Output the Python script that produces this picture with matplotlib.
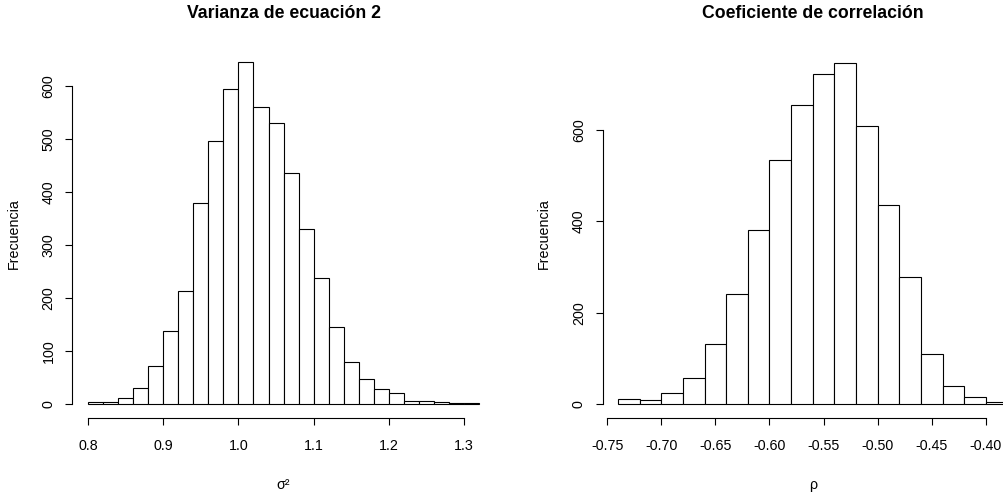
import numpy as np
import matplotlib
matplotlib.use("Agg")
import matplotlib.pyplot as plt

plt.rcParams['font.family'] = ['Liberation Sans', 'DejaVu Sans']

# Posterior draws summarised as histogram counts (bin width 0.02)
var_breaks_start = 0.80
var_bin_width = 0.02
var_counts = [3, 3, 11, 30, 71, 138, 214, 379, 497, 595, 645, 560, 530,
              435, 330, 238, 145, 79, 48, 28, 20, 6, 6, 4, 2, 2]
var_ticks = [0.8, 0.9, 1.0, 1.1, 1.2, 1.3]
var_ticklabels = ["0.8", "0.9", "1.0", "1.1", "1.2", "1.3"]
var_yticks = [0, 100, 200, 300, 400, 500, 600]

rho_breaks_start = -0.74
rho_bin_width = 0.02
rho_counts = [10, 8, 24, 56, 131, 242, 382, 534, 656, 724, 748, 610, 436,
              278, 110, 40, 15, 4]
rho_ticks = [-0.75, -0.70, -0.65, -0.60, -0.55, -0.50, -0.45, -0.40]
rho_ticklabels = ["-0.75", "-0.70", "-0.65", "-0.60", "-0.55", "-0.50",
                  "-0.45", "-0.40"]
rho_yticks = [0, 200, 400, 600]

titles = ["Varianza de ecuación 2", "Coeficiente de correlación"]
xlabels = ["σ²", "ρ"]
ylabel = "Frecuencia"

W, H = 1004, 492
fig = plt.figure(figsize=(W / 100, H / 100), dpi=100)
fig.patch.set_facecolor("white")


def px_axes(x0, y0, x1, y1):
    return fig.add_axes([x0 / W, 1 - y1 / H, (x1 - x0) / W, (y1 - y0) / H])


def r_hist(ax, start, width, counts, xticks, xticklabels, yticks,
           title, xlabel):
    counts = np.asarray(counts, dtype=float)
    edges = start + width * np.arange(len(counts) + 1)
    ax.bar(edges[:-1], counts, width=width, align="edge",
           facecolor="white", edgecolor="black", linewidth=0.8)
    lo, hi = edges[0], edges[-1]
    pad_x = 0.04 * (hi - lo)
    ax.set_xlim(lo - pad_x, hi + pad_x)
    ymax = counts.max()
    ax.set_ylim(-0.04 * ymax, 1.04 * ymax)

    for side in ("top", "right"):
        ax.spines[side].set_visible(False)
    ax.spines["bottom"].set_bounds(xticks[0], xticks[-1])
    ax.spines["left"].set_bounds(yticks[0], yticks[-1])
    for side in ("bottom", "left"):
        ax.spines[side].set_linewidth(0.8)
        ax.spines[side].set_color("black")

    ax.set_xticks(xticks)
    ax.set_xticklabels(xticklabels, fontsize=10.3)
    ax.set_yticks(yticks)
    ax.set_yticklabels([str(v) for v in yticks], rotation=90, va="center",
                       fontsize=10.3)
    ax.tick_params(axis="both", direction="out", length=5, width=0.8,
                   colors="black")
    ax.tick_params(axis="x", pad=10)
    ax.tick_params(axis="y", pad=7)

    ax.set_title(title, fontsize=12.7, fontweight="bold", pad=22)
    ax.set_xlabel(xlabel, fontsize=10.3, labelpad=18)
    ax.set_ylabel(ylabel, fontsize=10.3, labelpad=15)


ax1 = px_axes(72.4, 48.5, 494.7, 417.7)
r_hist(ax1, var_breaks_start, var_bin_width, var_counts, var_ticks,
       var_ticklabels, var_yticks, titles[0], xlabels[0])

ax2 = px_axes(602.5, 49.0, 1023.0, 417.7)
r_hist(ax2, rho_breaks_start, rho_bin_width, rho_counts, rho_ticks,
       rho_ticklabels, rho_yticks, titles[1], xlabels[1])

fig.savefig("out.png", dpi=100, facecolor="white")
